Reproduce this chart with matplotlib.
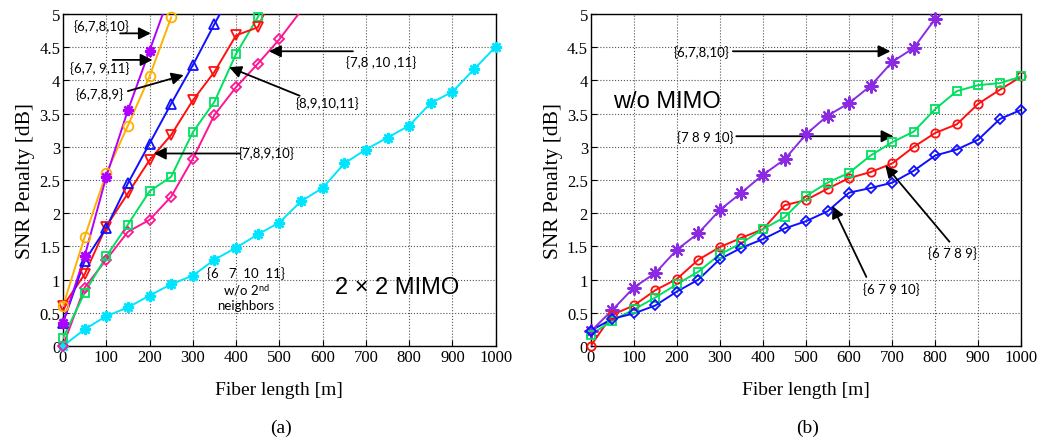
import numpy as np
import matplotlib
matplotlib.use("Agg")
import matplotlib.pyplot as plt

plt.rcParams['font.family'] = ['Liberation Serif', 'DejaVu Serif']
plt.rcParams['mathtext.fontset'] = 'stix'

# fiber length steps [m]
L = np.arange(0, 1001, 50)

# (a) 2x2 MIMO
a_67810 = [0.35, 1.35, 2.55, 3.55, 4.45, 5.35]
a_67911 = [0.6, 1.64, 2.6, 3.32, 4.06, 4.95]
a_6789 = [0.35, 1.28, 1.78, 2.45, 3.05, 3.65, 4.23, 4.85, 5.45]
a_78910 = [0.6, 1.08, 1.8, 2.3, 2.8, 3.18, 3.7, 4.13, 4.68, 4.8, 5.5]
a_891011 = [0.12, 0.8, 1.35, 1.83, 2.33, 2.55, 3.22, 3.68, 4.4, 4.95, 5.6]
a_781011 = [0.0, 0.88, 1.3, 1.72, 1.9, 2.25, 2.82, 3.48, 3.9, 4.25, 4.62, 5.05]
a_no2nd = [0.0, 0.25, 0.45, 0.58, 0.76, 0.93, 1.06, 1.3, 1.48, 1.68, 1.86,
           2.18, 2.38, 2.75, 2.96, 3.14, 3.32, 3.66, 3.83, 4.17, 4.51]

# (b) w/o MIMO
b_67810 = [0.22, 0.54, 0.88, 1.1, 1.45, 1.7, 2.05, 2.31, 2.58, 2.81, 3.19,
           3.47, 3.66, 3.92, 4.28, 4.49, 4.93]
b_6789 = [0.0, 0.47, 0.61, 0.84, 1.01, 1.3, 1.49, 1.63, 1.76, 2.12, 2.2,
          2.37, 2.53, 2.62, 2.75, 3.0, 3.21, 3.34, 3.65, 3.86, 4.06]
b_78910 = [0.17, 0.38, 0.55, 0.73, 0.93, 1.12, 1.38, 1.55, 1.76, 1.94, 2.26,
           2.46, 2.61, 2.87, 3.07, 3.23, 3.57, 3.84, 3.93, 3.96, 4.06]
b_67910 = [0.23, 0.41, 0.49, 0.61, 0.82, 1.0, 1.31, 1.48, 1.61, 1.77, 1.88,
           2.03, 2.31, 2.38, 2.46, 2.64, 2.87, 2.96, 3.11, 3.42, 3.56]

STAR = (8, 2, 0)   # matlab-like asterisk
ARROW = dict(arrowstyle='-|>', color='black', lw=1.3, mutation_scale=18,
             shrinkA=0, shrinkB=0)


def curve(ax, y, color, marker, ms=6, mew=1.3):
    y = np.array(y)
    x = L[:len(y)]
    ax.plot(x, y, '-', color=color, lw=1.4, zorder=3)
    ok = y <= 5
    ax.plot(x[ok], y[ok], ls='none', marker=marker, color=color, mfc='none',
            mew=mew, ms=ms, clip_on=False, zorder=4)


def style(ax):
    ax.set_xlim(0, 1000)
    ax.set_ylim(0, 5)
    ax.set_xticks(np.arange(0, 1001, 100))
    ax.set_yticks(np.arange(0, 5.01, 0.5))
    ax.set_yticklabels(['0', '0.5', '1', '1.5', '2', '2.5', '3', '3.5', '4', '4.5', '5'])
    ax.grid(True, ls=':', color='#555555', lw=0.8)
    ax.tick_params(direction='in', labelsize=12, length=4, pad=2)
    ax.set_xlabel('Fiber length [m]', fontsize=14, labelpad=12)
    ax.set_ylabel('SNR Penalty [dB]', fontsize=15.5, labelpad=3)
    for s in ax.spines.values():
        s.set_linewidth(1.0)


def label(ax, x, y, s):
    ax.text(x, y, s, fontsize=9.5, family='Lato', ha='center', va='center')


def arrow(ax, tip, tail):
    ax.annotate('', xy=tip, xytext=tail, arrowprops=ARROW)


fig = plt.figure(figsize=(10.53, 4.39), dpi=100)
ax1 = fig.add_axes([0.0598, 0.2096, 0.411, 0.756])
ax2 = fig.add_axes([0.561, 0.2096, 0.409, 0.756])

# (a)
curve(ax1, a_no2nd, '#00E5FF', STAR, 8, 1.8)
curve(ax1, a_781011, '#FF1493', 'D', 5)
curve(ax1, a_891011, '#00E060', 's', 6)
curve(ax1, a_78910, '#FF1010', 'v', 7)
curve(ax1, a_6789, '#1010FF', '^', 7)
curve(ax1, a_67911, '#FFB000', 'o', 7)
curve(ax1, a_67810, '#B000FF', STAR, 8, 1.8)
style(ax1)

label(ax1, 90, 4.83, '{6,7,8,10}')
arrow(ax1, (203, 4.71), (132, 4.71))
label(ax1, 85, 4.2, '{6,7, 9,11}')
arrow(ax1, (207, 4.31), (115, 4.31))
label(ax1, 85, 3.81, '{6,7,8,9}')
arrow(ax1, (279, 4.08), (150, 3.84))
label(ax1, 736, 4.28, '{7,8 ,10 ,11}')
arrow(ax1, (476, 4.44), (670, 4.44))
label(ax1, 612, 3.66, '{8,9,10,11}')
arrow(ax1, (384, 4.2), (547, 3.77))
label(ax1, 471, 2.92, '{7,8,9,10}')
arrow(ax1, (210, 2.9), (409, 2.9))
label(ax1, 423, 1.1, '{6   7  10  11}')
label(ax1, 423, 0.86, 'w/o 2$^{\\mathregular{nd}}$')
label(ax1, 423, 0.62, 'neighbors')
ax1.text(771, 0.89, '2 × 2 MIMO', fontsize=17, family='Liberation Sans',
         ha='center', va='center')

# (b)
curve(ax2, b_67810, '#8A2BE2', STAR, 10, 1.5)
curve(ax2, b_6789, '#FF1010', 'o', 6)
curve(ax2, b_78910, '#00E060', 's', 6)
curve(ax2, b_67910, '#1010FF', 'D', 5)
style(ax2)

ax2.text(176, 3.69, 'w/o MIMO', fontsize=17, family='Liberation Sans',
         ha='center', va='center')
label(ax2, 257, 4.43, '{6,7,8,10}')
arrow(ax2, (696, 4.44), (330, 4.44))
label(ax2, 267, 3.15, '{7 8 9 10}')
arrow(ax2, (703, 3.16), (338, 3.16))
label(ax2, 840, 1.4, '{6 7 8 9}')
arrow(ax2, (684, 2.72), (833, 1.57))
label(ax2, 698, 0.87, '{6 7 9 10}')
arrow(ax2, (561, 2.11), (640, 1.04))

fig.text(0.267, 0.025, '(a)', fontsize=14, ha='center', va='center')
fig.text(0.767, 0.025, '(b)', fontsize=14, ha='center', va='center')

fig.savefig('out.png', dpi=100)
